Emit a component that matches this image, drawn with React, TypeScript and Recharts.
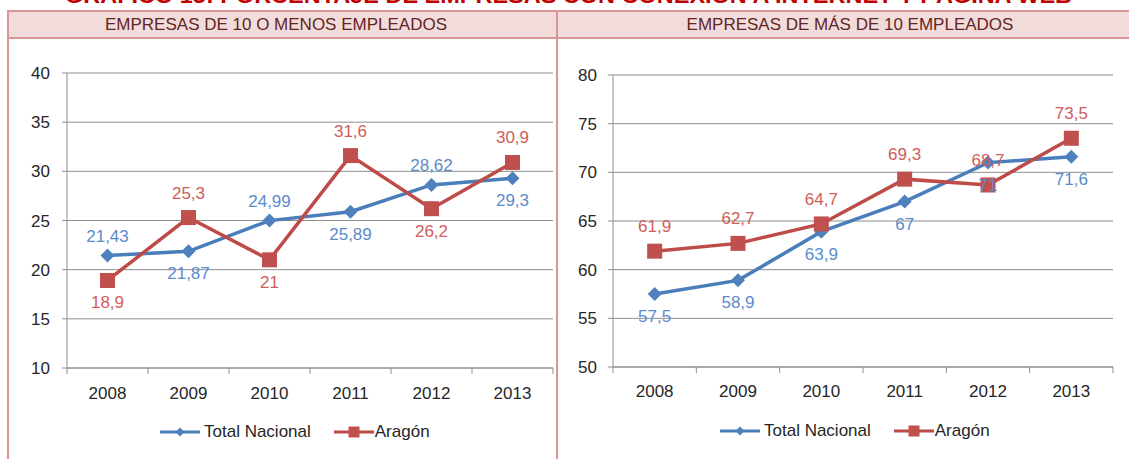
import React from 'react';
import { LineChart, Line, XAxis, YAxis, CartesianGrid, LabelList, Legend } from 'recharts';

const years = ['2008', '2009', '2010', '2011', '2012', '2013'];
const smallTotal = [21.43, 21.87, 24.99, 25.89, 28.62, 29.3];
const smallAragon = [18.9, 25.3, 21, 31.6, 26.2, 30.9];
const largeTotal = [57.5, 58.9, 63.9, 67, 71, 71.6];
const largeAragon = [61.9, 62.7, 64.7, 69.3, 68.7, 73.5];
const smallTicks = [10, 15, 20, 25, 30, 35, 40];
const largeTicks = [50, 55, 60, 65, 70, 75, 80];

const smallTotalPos = ['top', 'bottom', 'top', 'bottom', 'top', 'bottom'];
const smallAragonPos = ['bottom', 'top', 'bottom', 'top', 'bottom', 'top'];
const largeTotalPos = ['bottom', 'bottom', 'bottom', 'bottom', 'bottom', 'bottom'];
const largeAragonPos = ['top', 'top', 'top', 'top', 'top', 'top'];

const seriesTotal = 'Total Nacional';
const seriesAragon = 'Aragón';
const titleText = 'GRÁFICO 15: PORCENTAJE DE EMPRESAS CON CONEXIÓN A INTERNET Y PÁGINA WEB';
const headerSmall = 'EMPRESAS DE 10 O MENOS EMPLEADOS';
const headerLarge = 'EMPRESAS DE MÁS DE 10 EMPLEADOS';

const FONT = '"Liberation Sans", Arial, sans-serif';
const BLUE = '#4a7ebb';
const BLUE_M = '#4f81bd';
const RED = '#be4b48';
const RED_M = '#c0504d';
const BLUE_L = '#5a8bcb';
const RED_L = '#cf5d59';
const GRID = '#8e8e8e';
const TEXT = '#262626';
const BORDER = '#d99694';

const fmt = (v: number) => String(v).replace('.', ',');

const Diamond = (props: any) => {
  const { cx, cy } = props;
  if (cx == null || cy == null) return null;
  const r = 7;
  return <path d={`M${cx},${cy - r}L${cx + r},${cy}L${cx},${cy + r}L${cx - r},${cy}Z`} fill={BLUE_M} />;
};

const Square = (props: any) => {
  const { cx, cy } = props;
  if (cx == null || cy == null) return null;
  const s = 15;
  return <rect x={cx - s / 2} y={cy - s / 2} width={s} height={s} fill={RED_M} />;
};

const makeLabel = (positions: string[], color: string, upOff: number) => (props: any) => {
  const { x, y, value, index } = props;
  const above = positions[index] === 'top';
  return (
    <text x={x} y={above ? y - upOff : y + 28} textAnchor="middle" fill={color} fontSize={17} fontFamily={FONT}>
      {fmt(value)}
    </text>
  );
};

const makeXTick = (half: number, count: number, baseOff: number) => (props: any) => {
  const { x, y, payload, index } = props;
  return (
    <g>
      <line x1={x - half} x2={x - half} y1={y} y2={y + 6} stroke={GRID} strokeWidth={1} />
      {index === count - 1 ? <line x1={x + half} x2={x + half} y1={y} y2={y + 6} stroke={GRID} strokeWidth={1} /> : null}
      <text x={x} y={y + baseOff} textAnchor="middle" fill={TEXT} fontSize={17} fontFamily={FONT}>
        {payload.value}
      </text>
    </g>
  );
};

const LegendBox = ({ start }: { start: number }) => (
  <div style={{ height: 40, display: 'flex', alignItems: 'center', paddingLeft: start, fontFamily: FONT, fontSize: 17, color: TEXT, boxSizing: 'border-box' }}>
    <svg width={40} height={16} style={{ display: 'block' }}>
      <line x1={0} x2={40} y1={8} y2={8} stroke={BLUE} strokeWidth={3} />
      <path d="M20,3.5L24.5,8L20,12.5L15.5,8Z" fill={BLUE_M} />
    </svg>
    <span style={{ marginLeft: 4, whiteSpace: 'nowrap' }}>{seriesTotal}</span>
    <svg width={40} height={16} style={{ display: 'block', marginLeft: 23 }}>
      <line x1={0} x2={40} y1={8} y2={8} stroke={RED} strokeWidth={3} />
      <rect x={14.5} y={2.5} width={11} height={11} fill={RED_M} />
    </svg>
    <span style={{ marginLeft: 1, whiteSpace: 'nowrap' }}>{seriesAragon}</span>
  </div>
);

type PanelProps = {
  left: number;
  top: number;
  width: number;
  height: number;
  marginTop: number;
  marginRight: number;
  yWidth: number;
  yMargin: number;
  total: number[];
  aragon: number[];
  ticks: number[];
  totalPos: string[];
  aragonPos: string[];
  legendStart: number;
  baseOff: number;
};

const Panel = (p: PanelProps) => {
  const data = years.map((y, i) => ({ year: y, total: p.total[i], aragon: p.aragon[i] }));
  const plotW = p.width - p.yWidth - p.marginRight;
  const half = plotW / years.length / 2;
  return (
    <div style={{ position: 'absolute', left: p.left, top: p.top }}>
      <LineChart width={p.width} height={p.height} data={data} margin={{ top: p.marginTop, right: p.marginRight, left: 0, bottom: 0 }} style={{ fontFamily: FONT }}>
        <CartesianGrid vertical={false} stroke={GRID} strokeWidth={1} />
        <XAxis
          dataKey="year"
          height={44}
          padding={{ left: half, right: half }}
          axisLine={{ stroke: GRID }}
          tickLine={false}
          tickSize={0}
          tickMargin={0}
          interval={0}
          tick={makeXTick(half, years.length, p.baseOff)}
        />
        <YAxis
          width={p.yWidth}
          domain={[p.ticks[0], p.ticks[p.ticks.length - 1]]}
          ticks={p.ticks}
          interval={0}
          axisLine={{ stroke: GRID }}
          tickLine={{ stroke: GRID }}
          tickSize={5}
          tickMargin={p.yMargin}
          tick={{ fill: TEXT, fontSize: 17, fontFamily: FONT }}
        />
        <Legend verticalAlign="bottom" wrapperStyle={{ left: 0, width: p.width }} content={() => <LegendBox start={p.legendStart} />} />
        <Line type="linear" dataKey="total" name={seriesTotal} stroke={BLUE} strokeWidth={3.5} dot={<Diamond />} activeDot={false} isAnimationActive={false} />
        <Line type="linear" dataKey="aragon" name={seriesAragon} stroke={RED} strokeWidth={3.5} dot={<Square />} activeDot={false} isAnimationActive={false} />
        <Line type="linear" dataKey="total" stroke="none" dot={false} activeDot={false} legendType="none" isAnimationActive={false}>
          <LabelList dataKey="total" content={makeLabel(p.totalPos, BLUE_L, 14)} />
        </Line>
        <Line type="linear" dataKey="aragon" stroke="none" dot={false} activeDot={false} legendType="none" isAnimationActive={false}>
          <LabelList dataKey="aragon" content={makeLabel(p.aragonPos, RED_L, 19)} />
        </Line>
      </LineChart>
    </div>
  );
};

export default function App() {
  return (
    <div style={{ position: 'absolute', left: 0, top: 0, width: 1129, height: 459, overflow: 'hidden', background: '#ffffff', fontFamily: FONT }}>
      <svg width={1129} height={20} style={{ position: 'absolute', left: 0, top: 0 }}>
        <text x={65} y={3} fill="#c00000" fontSize={22} fontWeight="bold" fontFamily={FONT} textLength={1007} lengthAdjust="spacingAndGlyphs">
          {titleText}
        </text>
      </svg>
      <div style={{ position: 'absolute', left: 7, top: 10, width: 1140, height: 29, boxSizing: 'border-box', border: `2px solid ${BORDER}`, background: '#f2dcdb' }} />
      <div style={{ position: 'absolute', left: 276, top: 12, transform: 'translateX(-50%)', lineHeight: '25px', fontSize: 17, color: '#632523', whiteSpace: 'nowrap' }}>{headerSmall}</div>
      <div style={{ position: 'absolute', left: 850, top: 12, transform: 'translateX(-50%)', lineHeight: '25px', fontSize: 17, color: '#632523', whiteSpace: 'nowrap' }}>{headerLarge}</div>
      <Panel left={9} top={38} width={548} height={414} marginTop={35} marginRight={4} yWidth={58} yMargin={12}
        total={smallTotal} aragon={smallAragon} ticks={smallTicks} totalPos={smallTotalPos} aragonPos={smallAragonPos} legendStart={151} baseOff={31} />
      <Panel left={557} top={38} width={572} height={413} marginTop={37} marginRight={16} yWidth={56} yMargin={11}
        total={largeTotal} aragon={largeAragon} ticks={largeTicks} totalPos={largeTotalPos} aragonPos={largeAragonPos} legendStart={163} baseOff={30} />
      <div style={{ position: 'absolute', left: 7, top: 10, width: 2, height: 460, background: BORDER }} />
      <div style={{ position: 'absolute', left: 556, top: 10, width: 2, height: 460, background: BORDER }} />
    </div>
  );
}
